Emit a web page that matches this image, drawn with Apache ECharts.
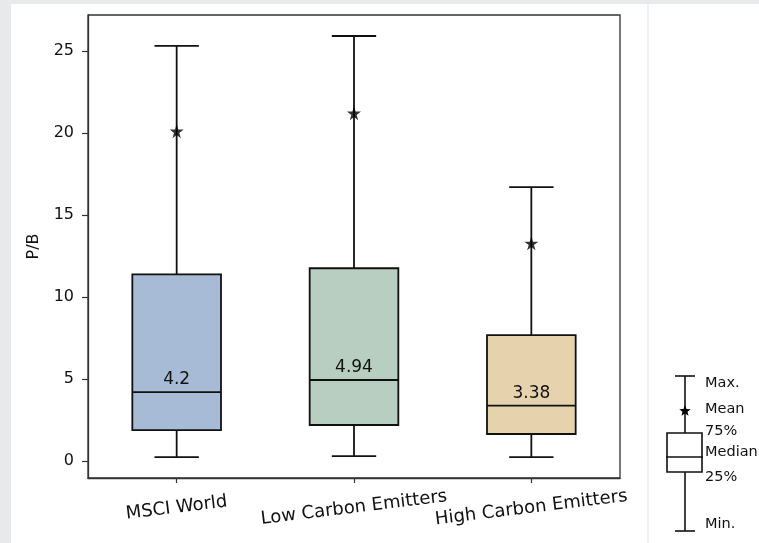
<!DOCTYPE html>
<html>
<head>
<meta charset="utf-8">
<script src="https://cdn.jsdelivr.net/npm/echarts@6/dist/echarts.min.js"></script>
<style>
  html, body { margin: 0; padding: 0; width: 759px; height: 543px; background: #e8e9eb; overflow: hidden; }
  #panel { position: absolute; left: 11px; top: 4px; width: 748px; height: 539px; background: #ffffff; }
  #sep { position: absolute; left: 647px; top: 4px; width: 2px; height: 539px; background: #f1f1f2; }
  #chart { position: absolute; left: 0; top: 0; width: 759px; height: 543px; }
</style>
</head>
<body>
<div id="panel"></div>
<div id="sep"></div>
<div id="chart"></div>
<script>
// ---- data ----
const categories = ['MSCI World', 'Low Carbon Emitters', 'High Carbon Emitters'];
const mins    = [0.24, 0.30, 0.24];
const q1s     = [1.89, 2.20, 1.65];
const medians = [4.20, 4.94, 3.38];
const q3s     = [11.38, 11.75, 7.68];
const maxs    = [25.30, 25.90, 16.69];
const means   = [20.10, 21.20, 13.27];
const medianLabels = ['4.2', '4.94', '3.38'];
const boxColors = ['#a8bbd6', '#b8cec1', '#e6d3ae'];
const yTicks = [0, 5, 10, 15, 20, 25];
const legendLabels = ['Max.', 'Mean', '75%', 'Median', '25%', 'Min.'];

const FONT = 'DejaVu Sans';
const TXT = '#111111';
const STAR = 'path://M50,0 L61,35 L98,35 L68,57 L79,91 L50,70 L21,91 L32,57 L2,35 L39,35 Z';

const boxData = categories.map((c, i) => [c, mins[i], q1s[i], medians[i], q3s[i], maxs[i]]);

function renderBox(params, api) {
  const idx = params.dataIndex;
  const cat = api.value(0);
  const vmin = api.value(1), vq1 = api.value(2), vmed = api.value(3), vq3 = api.value(4), vmax = api.value(5);
  const band = api.size([1, 0])[0];
  const bw = band * 0.5;
  const pMin = api.coord([cat, vmin]);
  const pQ1 = api.coord([cat, vq1]);
  const pMed = api.coord([cat, vmed]);
  const pQ3 = api.coord([cat, vq3]);
  const pMax = api.coord([cat, vmax]);
  const cx = pMed[0];
  const ls = { stroke: '#111', lineWidth: 1.8 };
  return {
    type: 'group',
    children: [
      { type: 'line', shape: { x1: cx, y1: pQ3[1], x2: cx, y2: pMax[1] }, style: ls },
      { type: 'line', shape: { x1: cx, y1: pQ1[1], x2: cx, y2: pMin[1] }, style: ls },
      { type: 'line', shape: { x1: cx - bw / 4, y1: pMax[1], x2: cx + bw / 4, y2: pMax[1] }, style: ls },
      { type: 'line', shape: { x1: cx - bw / 4, y1: pMin[1], x2: cx + bw / 4, y2: pMin[1] }, style: ls },
      { type: 'rect', shape: { x: cx - bw / 2, y: pQ3[1], width: bw, height: pQ1[1] - pQ3[1] },
        style: { fill: boxColors[idx], stroke: '#111', lineWidth: 1.8 } },
      { type: 'line', shape: { x1: cx - bw / 2, y1: pMed[1], x2: cx + bw / 2, y2: pMed[1] }, style: ls }
    ]
  };
}

// legend key (decoration)
function starPoints(cx, cy, R, r) {
  const pts = [];
  for (let k = 0; k < 10; k++) {
    const a = -Math.PI / 2 + k * Math.PI / 5;
    const rad = k % 2 === 0 ? R : r;
    pts.push([cx + rad * Math.cos(a), cy + rad * Math.sin(a)]);
  }
  return pts;
}
const LX = 685;
const lg = { stroke: '#111', lineWidth: 1.6 };
const legendY = [383, 409, 431, 452, 477, 524];
const graphics = [
  { type: 'line', shape: { x1: LX, y1: 376, x2: LX, y2: 433 }, style: lg },
  { type: 'line', shape: { x1: LX, y1: 472, x2: LX, y2: 531 }, style: lg },
  { type: 'line', shape: { x1: LX - 10, y1: 376, x2: LX + 10, y2: 376 }, style: lg },
  { type: 'line', shape: { x1: LX - 10, y1: 531, x2: LX + 10, y2: 531 }, style: lg },
  { type: 'rect', shape: { x: 667, y: 433, width: 35, height: 39 }, style: { fill: '#fff', stroke: '#111', lineWidth: 1.6 } },
  { type: 'line', shape: { x1: 666, y1: 457, x2: 703, y2: 457 }, style: lg },
  { type: 'polygon', shape: { points: starPoints(LX, 411, 6, 2.6) }, style: { fill: '#000' } }
];
legendLabels.forEach((t, i) => {
  graphics.push({ type: 'text', x: 705, y: legendY[i],
    style: { text: t, fontFamily: FONT, fontSize: 14.5, fill: TXT, textVerticalAlign: 'middle', textAlign: 'left' } });
});

const chart = echarts.init(document.getElementById('chart'), null, { renderer: 'canvas' });
chart.setOption({
  backgroundColor: 'transparent',
  animation: false,
  grid: { left: 88, top: 15, right: 139, bottom: 65, show: true, borderColor: '#333', borderWidth: 1.3, backgroundColor: 'transparent' },
  xAxis: {
    type: 'category',
    data: categories,
    boundaryGap: true,
    axisLine: { show: true, onZero: false, lineStyle: { color: '#333', width: 1.3 } },
    axisTick: { show: true, alignWithLabel: true, length: 5, lineStyle: { color: '#333', width: 1.2 } },
    axisLabel: { rotate: 7, align: 'center', verticalAlign: 'middle', margin: 30, fontFamily: FONT, fontSize: 18, color: TXT, interval: 0 },
    splitLine: { show: false }
  },
  yAxis: {
    type: 'value',
    min: -1.03,
    max: 27.18,
    name: 'P/B',
    nameLocation: 'middle',
    nameRotate: 90,
    nameGap: 46,
    nameTextStyle: { fontFamily: FONT, fontSize: 16, color: TXT },
    axisLine: { show: true, lineStyle: { color: '#333', width: 1.3 } },
    axisTick: { show: true, length: 6, lineStyle: { color: '#333', width: 1.2 }, customValues: yTicks },
    axisLabel: { margin: 14, fontFamily: FONT, fontSize: 16, color: TXT, customValues: yTicks },
    splitLine: { show: false }
  },
  series: [
    {
      type: 'custom',
      renderItem: renderBox,
      encode: { x: 0, y: [1, 2, 3, 4, 5] },
      data: boxData,
      z: 2
    },
    {
      type: 'scatter',
      data: categories.map((c, i) => [c, means[i]]),
      symbol: STAR,
      symbolSize: 14,
      itemStyle: { color: '#000' },
      z: 5
    },
    {
      type: 'scatter',
      data: categories.map((c, i) => [c, medians[i]]),
      symbolSize: 0,
      itemStyle: { color: '#000', opacity: 0 },
      label: {
        show: true, position: 'top', distance: 4,
        formatter: (p) => medianLabels[p.dataIndex],
        fontFamily: FONT, fontSize: 17, color: '#111', opacity: 1, textBorderWidth: 0
      },
      z: 6
    }
  ],
  graphic: graphics
});
</script>
</body>
</html>
